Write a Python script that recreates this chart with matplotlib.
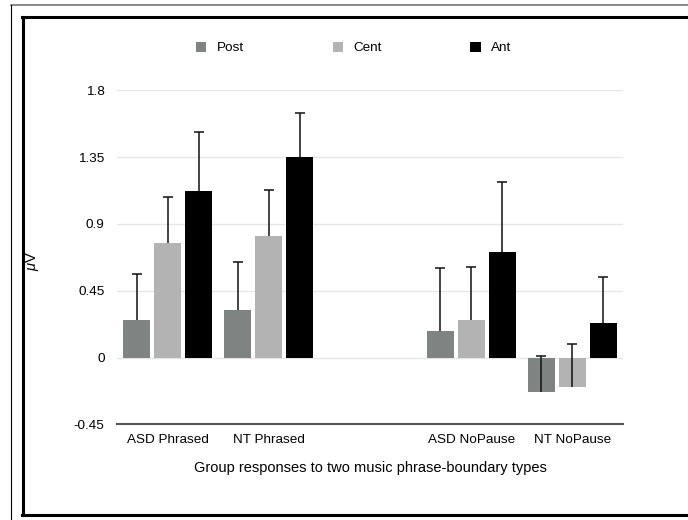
import numpy as np
import matplotlib
matplotlib.use("Agg")
import matplotlib.pyplot as plt
from matplotlib.lines import Line2D
from matplotlib.patches import Patch

plt.rcParams['font.family'] = ['Liberation Sans', 'DejaVu Sans']
plt.rcParams['mathtext.fontset'] = 'custom'
plt.rcParams['mathtext.it'] = 'Liberation Sans:italic'

# group labels, the empty slot in the middle splits the two boundary types
categories = ["ASD Phrased", "NT Phrased", "", "ASD NoPause", "NT NoPause"]
group_slots = [0, 1, 3, 4]

# mean amplitude (uV) per electrode region
post = [0.25, 0.32, 0.18, -0.23]
cent = [0.77, 0.82, 0.25, -0.20]
ant = [1.12, 1.35, 0.71, 0.23]

# upper error bars
post_err = [0.31, 0.32, 0.42, 0.24]
cent_err = [0.31, 0.31, 0.36, 0.29]
ant_err = [0.40, 0.30, 0.47, 0.31]

series_names = ["Post", "Cent", "Ant"]
colors = ["#7f8381", "#b3b3b3", "#000000"]

W, H = 688, 520
fig = plt.figure(figsize=(W / 100, H / 100), dpi=100)
ax = fig.add_axes([117 / W, 1 - 424.3 / H, 506 / W, 334 / H])

x = np.array(group_slots, dtype=float)
bar_w = 0.27
step = 0.306
for i, (vals, errs) in enumerate([(post, post_err), (cent, cent_err), (ant, ant_err)]):
    xs = x + (i - 1) * step
    ax.bar(xs, vals, width=bar_w, color=colors[i], zorder=2)
    lower = np.zeros(len(errs))
    _, caps, _ = ax.errorbar(xs, vals, yerr=[lower, errs], fmt='none', ecolor='#111111',
                             elinewidth=1.1, capsize=3.5, capthick=1.1, zorder=3)
    # keep only the top caps
    caps[0].set_visible(False)

ax.set_xlim(-0.5, 4.5)
ax.set_ylim(-0.45, 1.8)
ax.set_yticks([-0.45, 0, 0.45, 0.9, 1.35, 1.8])
ax.set_yticklabels(["-0.45", "0", "0.45", "0.9", "1.35", "1.8"])
ax.set_xticks(range(len(categories)))
ax.set_xticklabels(categories)
ax.tick_params(axis='both', length=0, labelsize=9.7)
ax.tick_params(axis='y', pad=9)
ax.tick_params(axis='x', pad=7)

# light horizontal grid, dark baseline at the bottom
for yv in [0, 0.45, 0.9, 1.35, 1.8]:
    ax.axhline(yv, color='#e6e6e6', lw=1.0, zorder=1)
for s in ['top', 'right', 'left']:
    ax.spines[s].set_visible(False)
ax.spines['bottom'].set_color('#555555')
ax.spines['bottom'].set_linewidth(1.5)

ax.set_xlabel("Group responses to two music phrase-boundary types", fontsize=10.5, labelpad=11)
ax.set_ylabel(r"$\mu$V", fontsize=10.5)
ax.yaxis.set_label_coords(-0.15, 0.49)

handles = [Patch(facecolor=c, edgecolor='none') for c in colors]
fig.legend(handles, series_names, loc='center left', ncol=3, frameon=False,
           bbox_to_anchor=(196 / W, 1 - 48 / H), fontsize=9.7,
           handlelength=0.76, handleheight=0.76, handletextpad=0.76,
           columnspacing=6.6, borderpad=0, borderaxespad=0)

# window frame around the chart
def fig_line(xs, ys, **kw):
    fig.add_artist(Line2D([v / W for v in xs], [1 - v / H for v in ys],
                          transform=fig.transFigure, **kw))

fig_line([11, W], [5, 5], color='#777777', lw=1.2)
fig_line([11.5, 11.5], [5, H], color='#000000', lw=0.8)
fig_line([22.5, 22.5], [16.5, 514.5], color='#000000', lw=2.2)
fig_line([22, W], [16.5, 16.5], color='#000000', lw=2.2)
fig_line([22, W], [514.5, 514.5], color='#000000', lw=2.2)

fig.savefig("out.png", dpi=100)
